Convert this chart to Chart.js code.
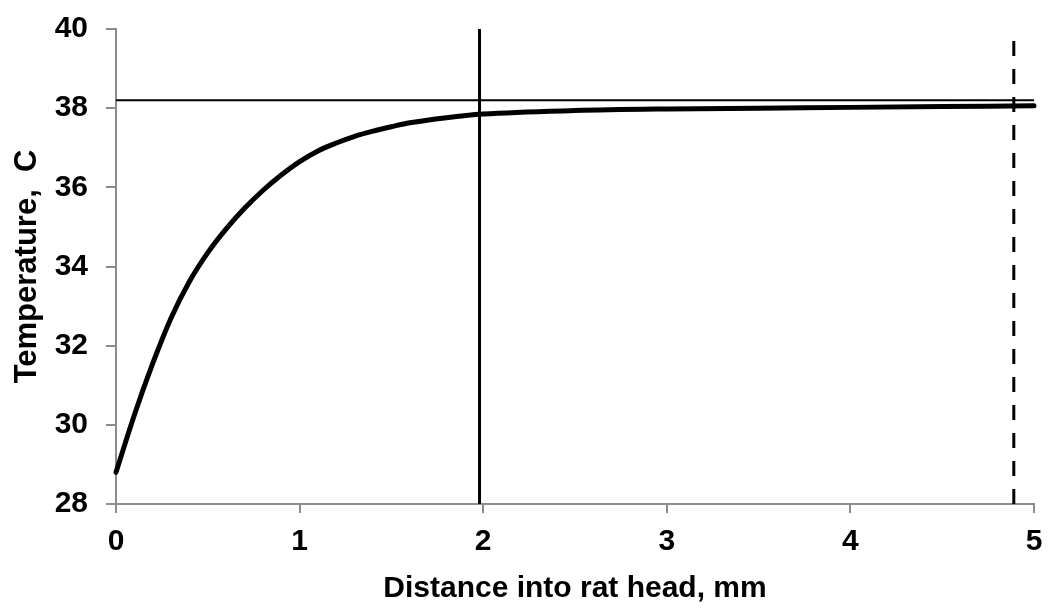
<!DOCTYPE html>
<html>
<head>
<meta charset="utf-8">
<title>Temperature vs distance</title>
<script src="https://cdn.jsdelivr.net/npm/chart.js@4/dist/chart.umd.min.js"></script>
<style>
    html, body { margin: 0; padding: 0; background: #fff; }
    #wrap { width: 1048px; height: 613px; position: relative; }
</style>
</head>
<body>
<div id="wrap"><canvas id="tempChart"></canvas></div>
<script>
// Curva de temperatura
const distancia = [0, 0.1, 0.2, 0.3, 0.4, 0.5, 0.6, 0.7, 0.8, 0.9, 1.0, 1.1, 1.2, 1.3, 1.4, 1.5, 1.6, 1.8, 2.0, 2.5, 3.0, 3.5, 4.0, 4.5, 5.0];
const temperatura = [28.8, 30.25, 31.55, 32.7, 33.62, 34.35, 34.95, 35.47, 35.92, 36.31, 36.65, 36.92, 37.12, 37.29, 37.42, 37.53, 37.63, 37.76, 37.85, 37.94, 37.98, 38.0, 38.02, 38.04, 38.06];

// Líneas de referencia
const lineaHorizX = [0, 5];
const lineaHorizY = [38.2, 38.2];
const lineaSolidaX = [1.98, 1.98];
const lineaSolidaY = [28, 40];
const lineaDashX = [4.89, 4.89];
const lineaDashY = [28, 39.77];

// Ejes
const xTicks = [0, 1, 2, 3, 4, 5];
const yTicks = [28, 30, 32, 34, 36, 38, 40];

const toPoints = (xs, ys) => xs.map((x, i) => ({ x: x, y: ys[i] }));

const FONT = '"Liberation Sans", Arial, Helvetica, sans-serif';
const AXIS_GRAY = '#8c8c8c';

const ctx = document.getElementById('tempChart').getContext('2d');
new Chart(ctx, {
    type: 'line',
    data: {
        datasets: [
            {
                label: 'Temperatura',
                data: toPoints(distancia, temperatura),
                borderColor: '#000',
                borderWidth: 5,
                pointRadius: 0,
                cubicInterpolationMode: 'monotone',
                borderCapStyle: 'round',
                clip: false
            },
            {
                label: 'Horizontal',
                data: toPoints(lineaHorizX, lineaHorizY),
                borderColor: '#000',
                borderWidth: 2,
                pointRadius: 0,
                clip: false
            },
            {
                label: 'Vertical',
                data: toPoints(lineaSolidaX, lineaSolidaY),
                borderColor: '#000',
                borderWidth: 3,
                pointRadius: 0,
                clip: false
            },
            {
                label: 'Vertical discontinua',
                data: toPoints(lineaDashX, lineaDashY),
                borderColor: '#000',
                borderWidth: 3,
                borderDash: [15, 13],
                pointRadius: 0,
                clip: false
            }
        ]
    },
    options: {
        responsive: true,
        maintainAspectRatio: false,
        animation: false,
        layout: { padding: { left: 0, top: 29, right: 14, bottom: 0 } },
        plugins: {
            legend: { display: false },
            tooltip: { enabled: false }
        },
        scales: {
            x: {
                type: 'linear',
                min: 0,
                max: 5,
                afterBuildTicks: (scale) => { scale.ticks = xTicks.map(v => ({ value: v })); },
                afterFit: (scale) => {
                    scale.height = 109;
                    scale.paddingLeft = 0;
                    scale.paddingRight = 0;
                },
                border: { color: AXIS_GRAY, width: 2 },
                grid: { drawOnChartArea: false, color: AXIS_GRAY, tickLength: 9, lineWidth: 2 },
                ticks: {
                    color: '#000',
                    padding: 11,
                    font: { family: FONT, size: 30, weight: 'bold' }
                },
                title: {
                    display: true,
                    text: 'Distance into rat head, mm',
                    color: '#000',
                    padding: { top: 0, bottom: 6 },
                    font: { family: FONT, size: 30, weight: 'bold' }
                }
            },
            y: {
                min: 28,
                max: 40,
                afterBuildTicks: (scale) => { scale.ticks = yTicks.map(v => ({ value: v })); },
                afterFit: (scale) => {
                    scale.width = 116;
                    scale.paddingTop = 0;
                    scale.paddingBottom = 0;
                },
                border: { color: AXIS_GRAY, width: 2 },
                grid: { drawOnChartArea: false, color: AXIS_GRAY, tickLength: 10, lineWidth: 2 },
                ticks: {
                    color: '#000',
                    padding: 18,
                    font: { family: FONT, size: 30, weight: 'bold' }
                },
                title: {
                    display: true,
                    text: 'Temperature,  C',
                    color: '#000',
                    padding: { top: 9, bottom: 0 },
                    font: { family: FONT, size: 31, weight: 'bold' }
                }
            }
        }
    }
});
</script>
</body>
</html>
